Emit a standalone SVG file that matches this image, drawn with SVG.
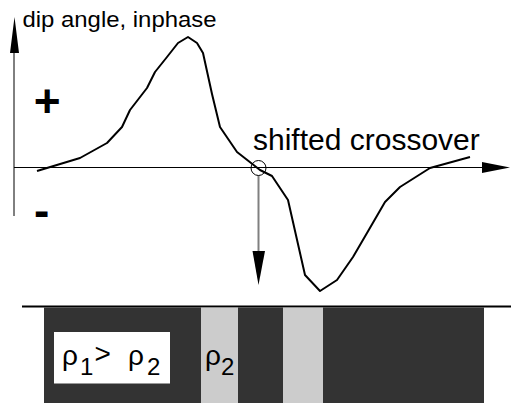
<svg xmlns="http://www.w3.org/2000/svg" width="511" height="403" viewBox="0 0 511 403">
<style>
text{font-family:"Liberation Sans",Arial,sans-serif;fill:#000}
.curve{fill:none;stroke:#000;stroke-width:2;stroke-linejoin:round}
.axis{stroke:#000;stroke-width:1;fill:none}
.head{fill:#000;stroke:none}
.sign{font-size:46px;font-weight:bold}
</style>
<rect width="511" height="403" fill="#fff"/>
<g id="connectors">
<line class="axis" x1="14" y1="216" x2="14" y2="50" stroke="#555"/>
<polygon class="head" points="14.5,17 10,53 19,53"/>
<line class="axis" x1="14" y1="167.5" x2="484" y2="167.5"/>
<polygon class="head" points="510,167.5 482,162 482,173"/>
<line x1="258.5" y1="175.5" x2="258.5" y2="252" stroke="#808080" stroke-width="2"/>
<polygon class="head" points="258.5,285 252.5,251 265,251"/>
</g>
<g id="curve">
<polyline class="curve" points="37,171 80,158 107,143 122,127 130,110 147,88 155,72 167,57 178,43 188,37 197,43 203,53 212,94 220,127 237,152 260,170 272,176 288,200 305,275 320,291 337,280 353,257 367,233 385,202 400,187 430,168 470,157"/>
</g>
<g id="crossover">
<circle cx="258.5" cy="168" r="7.5" fill="none" stroke="#000" stroke-width="1"/>
<text x="253" y="150" font-size="30">shifted crossover</text>
</g>
<g id="labels">
<text x="22.5" y="27" font-size="22" textLength="194" lengthAdjust="spacingAndGlyphs">dip angle, inphase</text>
<text class="sign" x="33.7" y="117">+</text>
<text class="sign" x="34" y="226">-</text>
</g>
<g id="ground">
<line x1="22" y1="306.5" x2="511" y2="306.5" stroke="#000" stroke-width="2"/>
<rect x="44" y="307.5" width="440" height="96" fill="#333"/>
<rect x="201" y="307.5" width="37" height="96" fill="#ccc"/>
<rect x="283" y="307.5" width="40" height="96" fill="#ccc"/>
<rect x="54" y="332" width="116" height="51.5" fill="#fff"/>
<text font-size="28"><tspan x="62" y="365">ρ</tspan><tspan x="80" y="375" font-size="24">1</tspan><tspan x="94.5" y="363">&gt;</tspan><tspan x="128" y="365">ρ</tspan><tspan x="147" y="375" font-size="24">2</tspan></text>
<text font-size="28"><tspan x="205" y="365">ρ</tspan><tspan x="221" y="375" font-size="24">2</tspan></text>
</g>
</svg>
